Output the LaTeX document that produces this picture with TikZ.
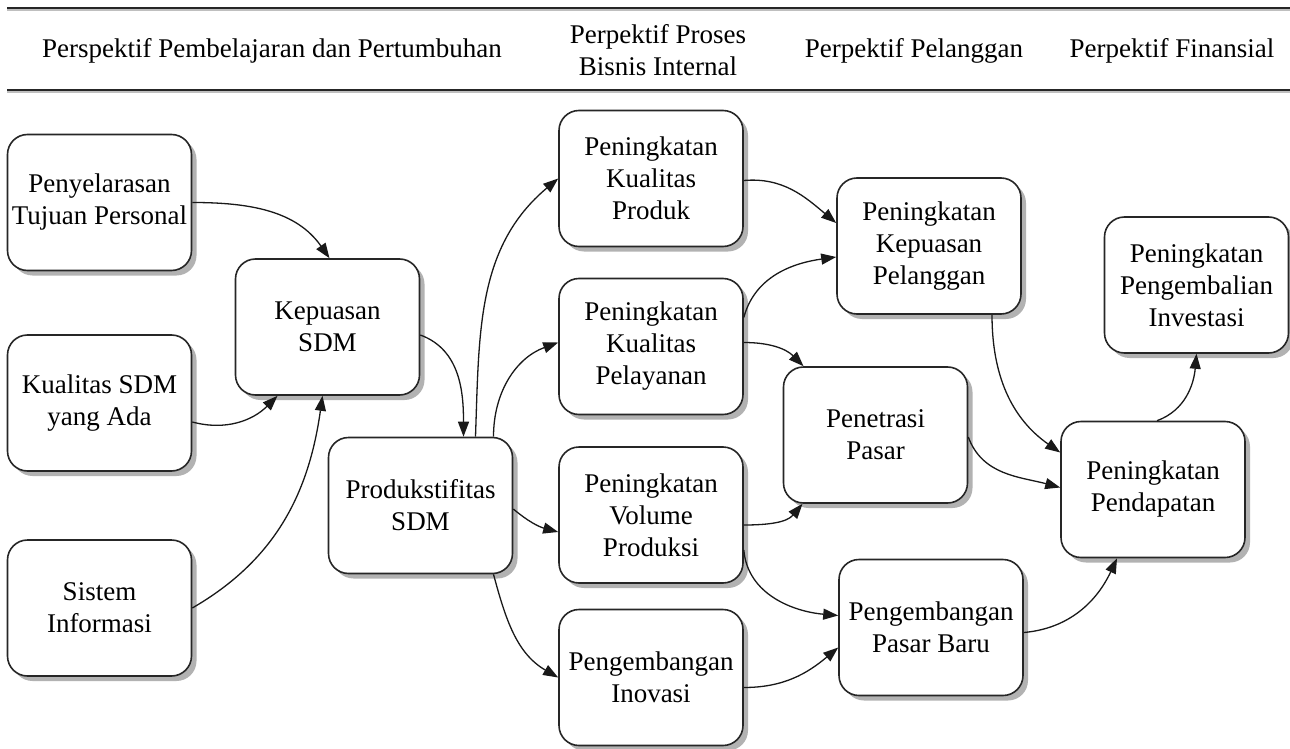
\documentclass[tikz,border=0pt]{standalone}
\usepackage{fontspec}
\setmainfont{Liberation Serif}
\usetikzlibrary{arrows.meta}
\begin{document}
\begin{tikzpicture}[x=1pt,y=1pt,
  box/.style={draw=black!85, line width=1.6pt, rounded corners=20pt, fill=white,
    minimum width=184pt, minimum height=136pt, align=center, inner sep=2pt,
    font=\fontsize{27}{32}\selectfont,
    preaction={fill=black!30, transform canvas={xshift=5pt,yshift=-5pt}}},
  hdr/.style={align=center, font=\fontsize{27}{31.5}\selectfont, inner sep=0pt},
  conn/.style={draw=black!90, line width=1.3pt, -{Triangle[length=15pt,width=11pt]}},
  rule/.style={line width=2.2pt, black!85},
  ruleshade/.style={line width=1.6pt, black!25}]
\useasboundingbox (0,0) rectangle (1290,-749);
% header rules
\coordinate (t1) at (7,-8);  \coordinate (t2) at (1290,-8);
\coordinate (b1) at (7,-90); \coordinate (b2) at (1290,-90);
\draw[ruleshade] ([yshift=-2pt]t1) -- ([yshift=-2pt]t2);
\draw[rule] (t1) -- (t2);
\draw[ruleshade] ([yshift=-2pt]b1) -- ([yshift=-2pt]b2);
\draw[rule] (b1) -- (b2);
% header texts
\node[hdr] (h1) at (272,-51) {Perspektif Pembelajaran dan Pertumbuhan};
\node[hdr] (h2) at (658,-50) {Perpektif Proses\\Bisnis Internal};
\node[hdr] (h3) at (914,-51) {Perpektif Pelanggan};
\node[hdr] (h4) at (1172,-51) {Perpektif Finansial};
% boxes
\node[box] (A)    at (99.5,-202.5) {Penyelarasan\\Tujuan Personal};
\node[box] (B)    at (99.5,-403)   {Kualitas SDM\\yang Ada};
\node[box] (C)    at (99.5,-608)   {Sistem\\Informasi};
\node[box] (Kep)  at (327.5,-327)  {Kepuasan\\SDM};
\node[box] (Prod) at (420.5,-505.5){Produkstifitas\\SDM};
\node[box] (KP)   at (651,-178.5)  {Peningkatan\\Kualitas\\Produk};
\node[box] (KPel) at (651,-346.5)  {Peningkatan\\Kualitas\\Pelayanan};
\node[box] (Vol)  at (651,-515)    {Peningkatan\\Volume\\Produksi};
\node[box] (Inov) at (651,-677.5)  {Pengembangan\\Inovasi};
\node[box] (KPl)  at (929,-246)    {Peningkatan\\Kepuasan\\Pelanggan};
\node[box] (Pen)  at (875.5,-435)  {Penetrasi\\Pasar};
\node[box] (PB)   at (931,-627.5)  {Pengembangan\\Pasar Baru};
\node[box] (Pend) at (1153,-489.5) {Peningkatan\\Pendapatan};
\node[box] (Inv)  at (1196.5,-285) {Peningkatan\\Pengembalian\\Investasi};
% connectors
\draw[conn] (A.east) to[out=0,in=125] ([xshift=2pt]Kep.north);
\draw[conn] ([yshift=-19pt]B.east) to[out=-15,in=-135] ([xshift=-50pt]Kep.south);
\draw[conn] (C.east) to[out=30,in=-98] ([xshift=-5pt]Kep.south);
\draw[conn] ([yshift=-8pt]Kep.east) to[out=-20,in=90] ([xshift=43pt]Prod.north);
\draw[conn] ([xshift=55pt]Prod.north) to[out=88,in=-140] (KP.west);
\draw[conn] ([xshift=73pt]Prod.north) to[out=90,in=-160] ([yshift=4pt]KPel.west);
\draw[conn] ([yshift=-3.5pt]Prod.east) to[out=-40,in=165] ([yshift=-17pt]Vol.west);
\draw[conn] ([xshift=73pt]Prod.south) to[out=-75,in=150] (Inov.west);
\draw[conn] ([yshift=-2pt]KP.east) to[out=5,in=140] ([yshift=23pt]KPl.west);
\draw[conn] ([yshift=29pt]KPel.east) to[out=75,in=188] ([yshift=-11pt]KPl.west);
\draw[conn] ([yshift=4pt]KPel.east) to[out=0,in=135] ([xshift=-72pt]Pen.north);
\draw[conn] ([yshift=-10pt]Vol.east) to[out=0,in=-130] ([xshift=-73pt]Pen.south);
\draw[conn] ([yshift=-35pt]Vol.east) to[out=-85,in=175] ([yshift=12pt]PB.west);
\draw[conn] ([yshift=-10pt]Inov.east) to[out=0,in=-140] ([yshift=-20pt]PB.west);
\draw[conn] ([xshift=63pt]KPl.south) to[out=-90,in=145] ([yshift=37pt]Pend.west);
\draw[conn] ([yshift=-2pt]Pen.east) to[out=-70,in=165] ([yshift=2pt]Pend.west);
\draw[conn] ([yshift=-5pt]PB.east) to[out=5,in=-115] ([xshift=-36pt]Pend.south);
\draw[conn] ([xshift=4pt]Pend.north) to[out=20,in=-95] (Inv.south);
\end{tikzpicture}
\end{document}
